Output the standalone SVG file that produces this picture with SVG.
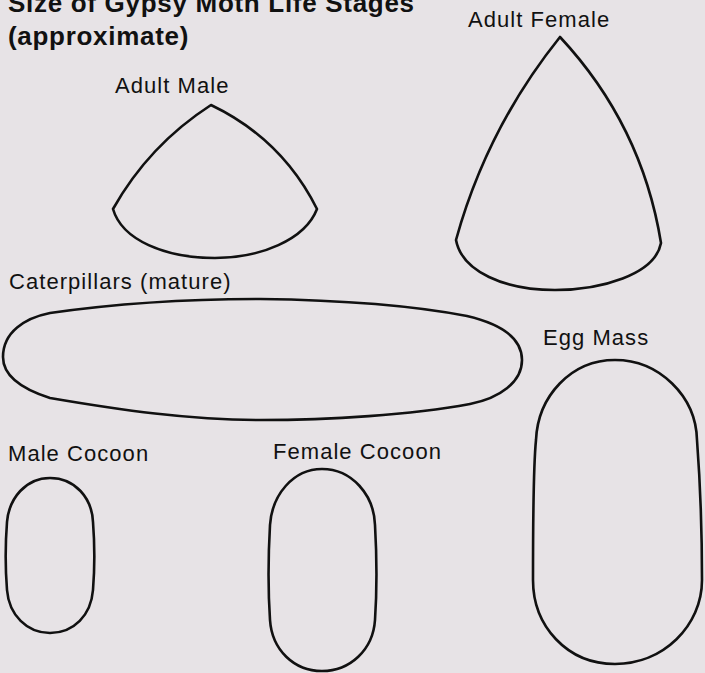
<svg xmlns="http://www.w3.org/2000/svg" width="705" height="673" viewBox="0 0 705 673">
<style>
.bg{fill:#e7e3e6}
.shape{fill:none;stroke:#111;stroke-width:2.6;stroke-linejoin:round}
.title{font-family:"Liberation Sans",Arial,sans-serif;font-weight:bold;font-size:26px;letter-spacing:0.7px;fill:#111}
.lbl{font-family:"Liberation Sans",Arial,sans-serif;font-size:22px;letter-spacing:1.05px;fill:#111}
</style>
<rect class="bg" x="0" y="0" width="705" height="673"/>
<g id="title">
<text class="title" x="8" y="12">Size of Gypsy Moth Life Stages</text>
<text class="title" x="8" y="45">(approximate)</text>
</g>
<g id="adult-male">
<text class="lbl" x="115" y="93">Adult Male</text>
<path class="shape" d="M211,105 Q282,139 317,209 C305,240 260,258 215,258 C165,258 122,240 113,209 Q149,145 211,105 Z"/>
</g>
<g id="adult-female">
<text class="lbl" x="468" y="27">Adult Female</text>
<path class="shape" d="M560,37 Q642,125 661,243 C655,275 600,290 555,290 C505,290 462,272 456,240 Q487,128 560,37 Z"/>
</g>
<g id="caterpillars">
<text class="lbl" x="9" y="289">Caterpillars (mature)</text>
<path class="shape" d="M3,357 C3,332 25,318 50,313 C120,303 190,299 260,299 C340,300 410,305 467,316 C505,325 522,340 522,360 C522,382 500,398 470,404 C410,415 330,420 260,420 C190,420 120,410 50,398 C25,390 3,378 3,357 Z"/>
</g>
<g id="egg-mass">
<text class="lbl" x="543" y="345">Egg Mass</text>
<path class="shape" d="M615,360 C659,360 696,396 697,440 C700,480 702,520 702,580 C702,626 663,664 615,664 C567,664 533,626 533,580 C533,520 533,470 536,440 C538,396 571,360 615,360 Z"/>
</g>
<g id="male-cocoon">
<text class="lbl" x="8" y="461">Male Cocoon</text>
<path class="shape" d="M50,478 C75,478 92,498 93,522 C95,548 95,565 93,590 C91,615 74,633 50,633 C27,633 9,615 7,590 C5,565 5,548 7,522 C9,498 26,478 50,478 Z"/>
</g>
<g id="female-cocoon">
<text class="lbl" x="273" y="459">Female Cocoon</text>
<path class="shape" d="M322,469 C352,469 374,495 375,525 C377,560 377,590 375,620 C373,650 350,671 322,671 C294,671 272,650 270,620 C268,590 268,560 270,525 C272,495 293,469 322,469 Z"/>
</g>
</svg>
